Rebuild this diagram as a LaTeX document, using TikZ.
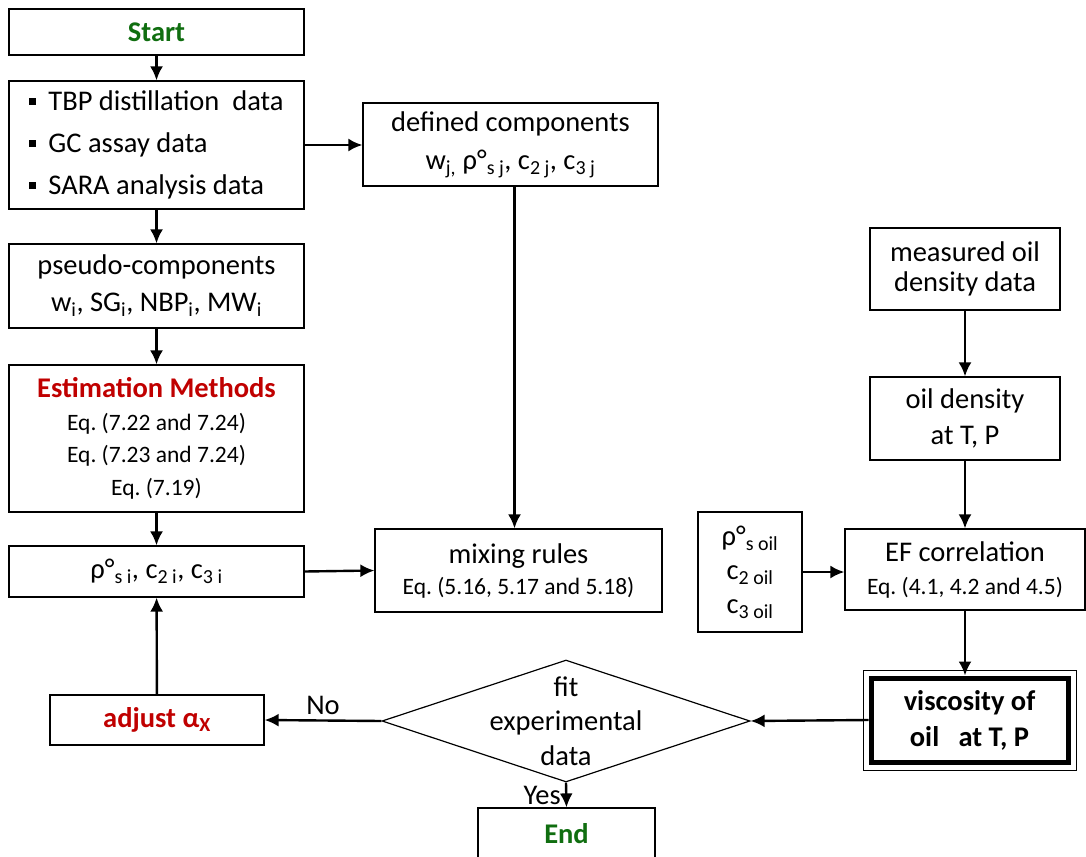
\documentclass[tikz,border=0pt]{standalone}
\usepackage{fontspec}
\setmainfont{Carlito}
\usetikzlibrary{arrows.meta,shapes.geometric}
\definecolor{okgreen}{RGB}{16,110,16}
\definecolor{hotred}{RGB}{192,0,0}
\tikzset{b/.style={draw,line width=1.2pt,inner sep=0pt,align=center,minimum width=295pt,minimum height=84pt},
 flow/.style={-{Latex[length=14pt,width=13pt]},line width=2.4pt}}
\newcommand{\blt}{\rule[6pt]{7pt}{7pt}\hspace{12pt}}
\frenchspacing

\begin{document}
\begin{tikzpicture}[x=1pt,y=-1pt,font=\fontsize{28.5}{36}\selectfont]
\clip(0,0)rectangle(1086,856);
\fill[white](0,0)rectangle(1086,856);
% left column
\node[b,minimum height=46pt](start) at(156.5,32){\textbf{\color{okgreen}Start}};
\node[b,minimum height=128pt,align=left,font=\fontsize{28.5}{42}\selectfont](data) at(156.5,145)
 {\blt TBP distillation~ data\\\blt GC assay data\\\blt SARA analysis data};
\node[b,font=\fontsize{28.5}{37}\selectfont](pseudo) at(156.5,286){pseudo-components\\w\textsubscript{i}, SG\textsubscript{i}, NBP\textsubscript{i}, MW\textsubscript{i}};
\node[b,minimum height=147pt,font=\fontsize{23.5}{32.5}\selectfont](est) at(156.5,438.5)
 {{\fontsize{28.5}{29}\selectfont\bfseries\color{hotred}Estimation Methods}\\Eq. (7.22 and 7.24)\\Eq. (7.23 and 7.24)\\Eq. (7.19)};
\node[b,minimum height=51pt](rho) at(156.5,571.5){ρ°\textsubscript{s i}, c\textsubscript{2 i}, c\textsubscript{3 i}};
\node[b,minimum width=214pt,minimum height=50pt](adj) at(157,720){\textbf{\color{hotred}adjust α\textsubscript{X}}};
% middle column
\node[b,minimum height=83pt,font=\fontsize{28.5}{38}\selectfont](defined) at(510.5,144.5){defined components\\w\textsubscript{j,} ρ°\textsubscript{s j}, c\textsubscript{2 j}, c\textsubscript{3 j}};
\node[b,minimum width=287pt,minimum height=83pt,font=\fontsize{28.5}{31}\selectfont](mix) at(518.5,570.5)
 {mixing rules\\{\fontsize{23.5}{26}\selectfont Eq. (5.16, 5.17 and 5.18)}};
\node[draw,diamond,line width=1.2pt,inner sep=0pt,minimum width=368pt,minimum height=122pt,
 label={[align=center,font=\fontsize{28.5}{34.5}\selectfont]center:fit\\experimental\\data}](fit) at(566,721){};
\node[b,minimum width=177pt,minimum height=52pt](end) at(566.5,834){\textbf{\color{okgreen}End}};
% right column
\node[b,minimum width=190pt,minimum height=82pt,font=\fontsize{28.5}{30}\selectfont](meas) at(965,269){measured oil\\density data};
\node[b,minimum width=190pt,minimum height=83pt](dens) at(965,418.5){oil density\\at T, P};
\node[b,minimum width=240pt,minimum height=81pt,font=\fontsize{28.5}{33}\selectfont](ef) at(965,569.5)
 {EF correlation\\{\fontsize{23.5}{26}\selectfont Eq. (4.1, 4.2 and 4.5)}};
\node[b,minimum width=104pt,minimum height=120pt,font=\fontsize{28.5}{34}\selectfont](roil) at(750,572)
 {ρ°\textsubscript{s oil}\\c\textsubscript{2 oil}\\c\textsubscript{3 oil}};
\node[draw,line width=5pt,inner sep=0pt,align=center,minimum width=197pt,minimum height=84pt,
 font=\fontsize{28.5}{36}\selectfont\bfseries](visc) at(969.5,720){viscosity of\\oil~~ at T, P};
\draw[line width=1pt]([shift={(-5.5,-5.5)}]visc.north west)rectangle([shift={(5.5,5.5)}]visc.south east);
% connectors
\draw[flow](start)--(data);
\draw[flow](data)--(pseudo);
\draw[flow](data.east)--(data.east-|defined.west);
\draw[flow](pseudo)--(est);
\draw[flow](est)--(rho);
\draw[flow](rho.east)--(mix.west);
\draw[flow]([xshift=4pt]defined.south)--([xshift=-4pt]mix.north);
\draw[flow](meas)--(dens);
\draw[flow](dens)--(ef);
\draw[flow](roil.east)--(roil.east-|ef.west);
\draw[flow](ef.south)--(ef.south|-visc.north);
\draw[flow](visc.west)--(fit.east);
\draw[flow](fit.west)--(adj.east)node[midway,above=1pt]{No};
\draw[flow](adj)--(rho);
\draw[flow](fit.south)--(end.north)node[midway,left=1pt]{Yes};
\end{tikzpicture}
\end{document}
